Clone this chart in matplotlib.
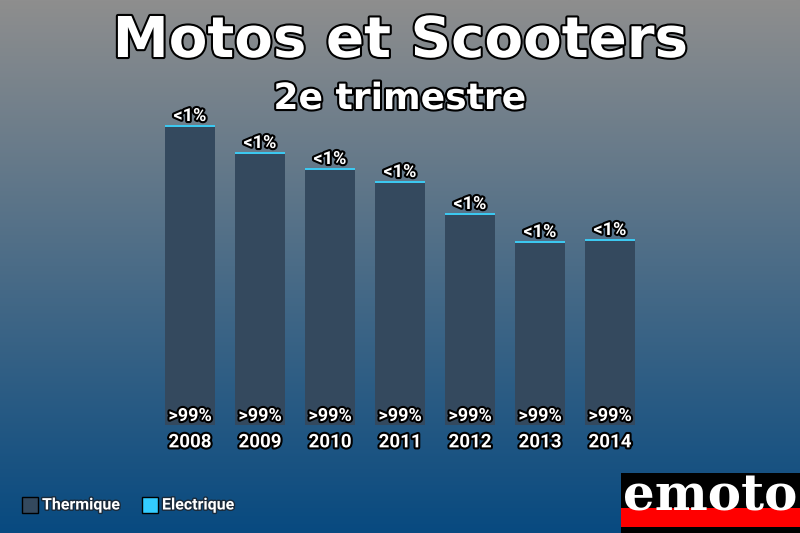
import numpy as np
import matplotlib
matplotlib.use("Agg")
import matplotlib.pyplot as plt
import matplotlib.patheffects as pe
from matplotlib.patches import Rectangle

# data (bar heights, arbitrary units)
years = ["2008", "2009", "2010", "2011", "2012", "2013", "2014"]
thermique = [298, 271, 255, 242, 210, 182, 184]
electrique = [2, 2, 2, 2, 2, 2, 2]
label_top = ["<1%"] * 7
label_bottom = [">99%"] * 7

c_therm = "#34495e"
c_elec = "#3cc8f0"
outline = [pe.withStroke(linewidth=3, foreground="black")]

fig = plt.figure(figsize=(8, 5.33), dpi=100)

# background gradient, gray at top to blue at bottom
bg = fig.add_axes([0, 0, 1, 1])
top = np.array([142, 142, 142]) / 255
bot = np.array([8, 74, 128]) / 255
t = np.linspace(0, 1, 256)[:, None]
grad = top[None, :] * (1 - t) + bot[None, :] * t
bg.imshow(grad[:, None, :], aspect="auto", extent=[0, 1, 0, 1])
bg.set_xlim(0, 1)
bg.set_ylim(0, 1)
bg.axis("off")

# bar axes: x index 0 -> 190px, spacing 70px ; bottom at 425px
W, H = 800, 533
ax = fig.add_axes([155 / W, 1 - 425 / H, 490 / W, 325 / H])
ax.patch.set_alpha(0)
x = np.arange(len(years))
ax.bar(x, thermique, width=0.715, color=c_therm)
ax.bar(x, electrique, bottom=thermique, width=0.715, color=c_elec)
ax.set_xlim(-0.5, 6.5)
ax.set_ylim(0, 325)
ax.axis("off")

for i in x:
    tot = thermique[i] + electrique[i]
    ax.annotate(label_top[i], (i, tot), xytext=(0, 0), textcoords="offset points",
                ha="center", va="bottom", color="white", fontsize=13,
                fontweight="bold", family="Roboto", path_effects=outline)
    ax.annotate(label_bottom[i], (i, 0), xytext=(0, 6.5), textcoords="offset points",
                ha="center", va="center", color="white", fontsize=13,
                fontweight="bold", family="Roboto", path_effects=outline)
    ax.annotate(years[i], (i, 0), xytext=(0, -12.5), textcoords="offset points",
                ha="center", va="center", color="white", fontsize=13.5,
                fontweight="bold", family="Roboto", path_effects=outline)

# titles
fig.text(0.5, 1 - 42 / H, "Motos et Scooters", ha="center", va="center",
         color="white", fontsize=40.5, fontweight="bold", family="DejaVu Sans",
         path_effects=outline)
fig.text(0.5, 1 - 99 / H, "2e trimestre", ha="center", va="center",
         color="white", fontsize=26, fontweight="bold", family="DejaVu Sans",
         path_effects=outline)

# legend
bg.add_patch(Rectangle((22 / W, 1 - 513 / H), 16 / W, 16 / H, facecolor=c_therm,
                       edgecolor="black", lw=1, transform=bg.transAxes))
fig.text(42 / W, 1 - 505 / H, "Thermique", ha="left", va="center", color="white",
         fontsize=11.5, fontweight="bold", family="Roboto",
         path_effects=[pe.withStroke(linewidth=2, foreground="#1a2a3a")])
bg.add_patch(Rectangle((142 / W, 1 - 513 / H), 16 / W, 16 / H, facecolor="#33ccff",
                       edgecolor="black", lw=1, transform=bg.transAxes))
fig.text(162 / W, 1 - 505 / H, "Electrique", ha="left", va="center", color="white",
         fontsize=11.5, fontweight="bold", family="Roboto",
         path_effects=[pe.withStroke(linewidth=2, foreground="#1a2a3a")])

# emoto logo
bg.add_patch(Rectangle((621 / W, 0), 179 / W, 60 / H, facecolor="black",
                       transform=bg.transAxes))
bg.add_patch(Rectangle((621 / W, 6 / H), 179 / W, 19 / H, facecolor="#ff0000",
                       transform=bg.transAxes))
fig.text(710 / W, 1 - 497 / H, "emoto", ha="center", va="center", color="white",
         fontsize=36, fontweight="bold", family="DejaVu Serif")

fig.savefig("out.png", dpi=100)
